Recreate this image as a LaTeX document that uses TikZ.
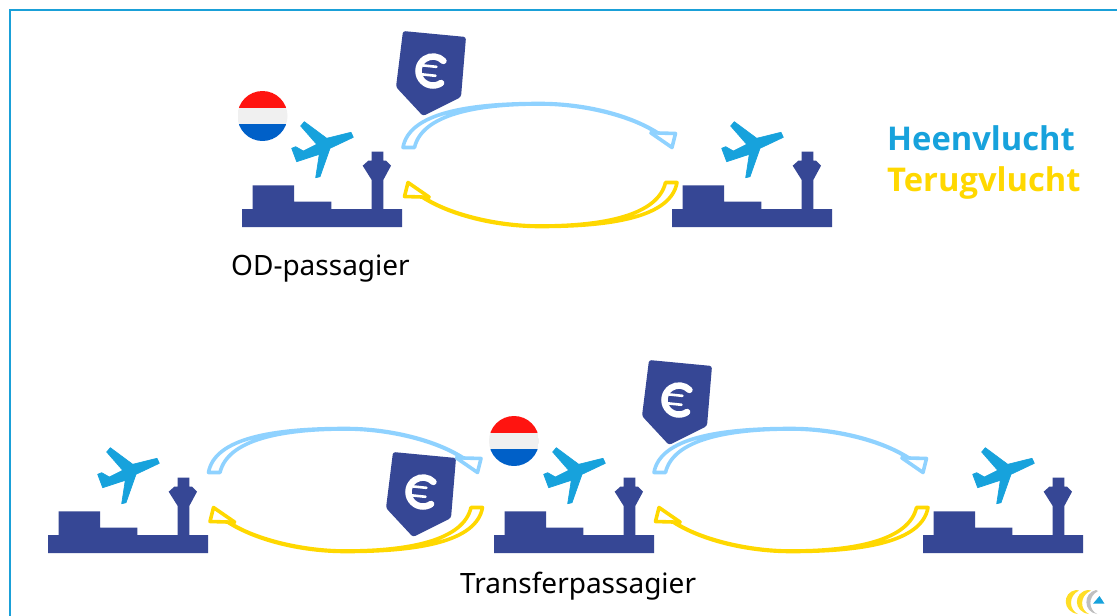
\documentclass[tikz,border=0pt]{standalone}
\usepackage{fontspec}
\setmainfont{Noto Sans}
\newfontfamily\legendfont{Open Sans}
\definecolor{navy}{HTML}{364795}
\definecolor{skyb}{HTML}{17A2DC}
\definecolor{lightb}{HTML}{8FD2FF}
\definecolor{goldy}{HTML}{FFD800}
\definecolor{frameb}{HTML}{1AA0D8}
\definecolor{flagred}{HTML}{FF1410}
\definecolor{flagwhite}{HTML}{F0F0F0}
\definecolor{flagblue}{HTML}{0060C8}
\tikzset{
  x=1pt,y=-1pt,
  labeltext/.style={font=\fontsize{28}{30}\selectfont,inner sep=0pt,anchor=base west,text=black},
  legendtext/.style={font=\legendfont\fontsize{32.7}{35}\selectfont\bfseries,inner sep=0pt,anchor=base west},
  airport/.pic={
    \fill[navy] (0,0)--(160,0)--(160,-18)--(141.3,-18)--(141.3,-47)--(149,-61.3)--(144,-66.5)--(141.3,-66.5)--(141.3,-75.3)--(129.7,-75.3)--(129.7,-66.5)--(126.5,-66.5)--(120.7,-61.3)--(129.7,-47)--(129.7,-18)--(89.3,-18)--(89.3,-25.3)--(52,-25.3)--(52,-41.7)--(10.7,-41.7)--(10.7,-18)--(0,-18)--cycle;
    \filldraw[skyb,line width=0.7,line join=round] (49.7,-78.7)--(53.7,-80.3)--(61.3,-76)--(74.7,-82.7)--(58.7,-101)--(62.3,-105.3)--(84.7,-88.7)--(109,-94.7)--(111.3,-89.7)--(88,-78.7)--(78,-50.3)--(73.7,-49.3)--(77.3,-72.7)--(54.7,-65.3)--cycle;
  },
  flagicon/.pic={
    \begin{scope}
      \clip (0,0) circle[radius=25];
      \fill[flagred] (-25,-25) rectangle (25,-8.3);
      \fill[flagwhite] (-25,-8.3) rectangle (25,8.3);
      \fill[flagblue] (-25,8.3) rectangle (25,25);
    \end{scope}
  },
  tagicon/.pic={
    \fill[navy,rounded corners=2.5] (403,31)--(466,37)--(461,97)--(423,116)--(396,87)--cycle;
    \begin{scope}[rotate around={-6:(433,71)}]
      \draw[white,line width=6.5,line cap=round] (433,71)++(50:14.5) arc[start angle=50,end angle=310,radius=14.5];
      \draw[white,line width=2.6,line cap=round] (421,66.5)--(436,66.5) (421,75.5)--(436,75.5);
    \end{scope}
  },
  bandarrow/.style={line width=3.6,line join=round,fill=white},
  curvedarrow/.pic={
    \filldraw[bandarrow,draw=#1] (-137,-17.5) .. controls (-131,-52) and (-72,-61.5) .. (0,-61.5)
      .. controls (45,-61.5) and (90,-50) .. (118,-32) -- (135.5,-31.5) -- (132,-17.5) -- (111,-32) -- (113,-34.5)
      .. controls (90,-48.5) and (45,-61) .. (0,-61)
      .. controls (-65,-61) and (-118,-50) .. (-125.5,-17.5) -- cycle;
  },
}
\begin{document}
\begin{tikzpicture}
\useasboundingbox (0,0) rectangle (1117,616);
\fill[white] (0,0) rectangle (1117,616);
\draw[frameb,line width=1.5] (10,616)--(10,10)--(1117,10);

% airports with planes
\pic at (242,227) {airport};
\pic at (672,227) {airport};
\pic at (48,553) {airport};
\pic at (494,553) {airport};
\pic at (923,553) {airport};

% flags
\pic at (262.5,116) {flagicon};
\pic at (514,441) {flagicon};

% arrows
\pic at (540,165) {curvedarrow=lightb};
\pic[rotate=180] at (540,165) {curvedarrow=goldy};
\pic at (345.5,490) {curvedarrow=lightb};
\pic[rotate=180] at (345.5,490) {curvedarrow=goldy};
\pic at (791,490) {curvedarrow=lightb};
\pic[rotate=180] at (791,490) {curvedarrow=goldy};

% price tags
\pic at (0,0) {tagicon};
\pic at (246,329) {tagicon};
\pic at (-10,421) {tagicon};

% labels
\node[labeltext] (od) at (231,275) {OD-passagier};
\node[labeltext] (tr) at (460,593) {Transferpassagier};
\node[legendtext,text=skyb] (heen) at (887,150) {Heenvlucht};
\node[legendtext,text=goldy] (terug) at (887,191) {Terugvlucht};

% logo
\fill[goldy!85!white] (1076,590) .. controls (1062,592) and (1062,612) .. (1078,614) .. controls (1069,610) and (1068,596) .. (1079,590.5) -- cycle;
\fill[goldy!85!white] (1088,590) .. controls (1073,592) and (1073,612) .. (1089,614) .. controls (1080,610) and (1079,596) .. (1091,590.5) -- cycle;
\fill[black!25] (1096,590) .. controls (1083,593) and (1083,612) .. (1097,614) .. controls (1089,610) and (1087,597) .. (1098,591) -- cycle;
\fill[skyb] (1093,603.7)--(1104.5,603.7)--(1099.5,596)--cycle;
\end{tikzpicture}
\end{document}
